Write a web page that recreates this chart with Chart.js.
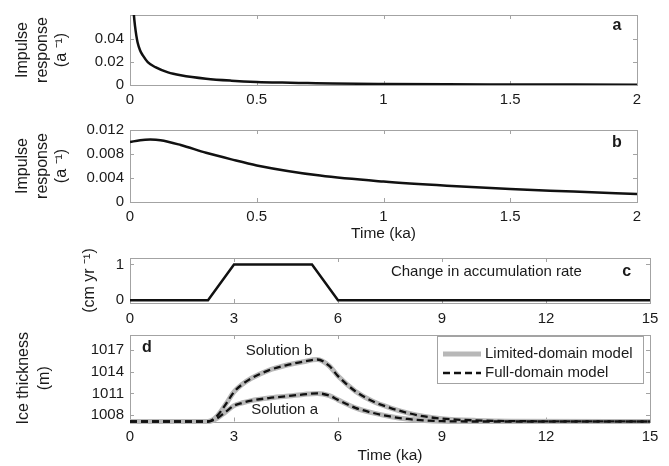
<!DOCTYPE html>
<html><head><meta charset="utf-8">
<script src="https://cdn.jsdelivr.net/npm/chart.js@4/dist/chart.umd.min.js"></script>
<style>
html,body{margin:0;padding:0;background:#fff;}
#wrap{position:relative;width:669px;height:466px;overflow:hidden;background:#fff;}
canvas{position:absolute;left:0;}
</style></head><body>
<div id="wrap">
<canvas id="ca" style="top:0px;width:669px;height:120px" width="669" height="120"></canvas>
<canvas id="cb" style="top:115px;width:669px;height:130px" width="669" height="130"></canvas>
<canvas id="cc" style="top:243px;width:669px;height:87px" width="669" height="87"></canvas>
<canvas id="cd" style="top:320px;width:669px;height:146px" width="669" height="146"></canvas>
</div>
<script>
// ---------- data ----------
// Panel a: impulse response a
const timeA = [0.006, 0.01, 0.015, 0.02, 0.025, 0.03, 0.04, 0.05, 0.07, 0.1, 0.15, 0.2, 0.3, 0.4, 0.5, 0.6, 0.7, 0.8, 1.0, 1.25, 1.5, 1.75, 2.0];
const respA = [0.11, 0.08, 0.062, 0.051, 0.043, 0.037, 0.030, 0.026, 0.020, 0.0155, 0.011, 0.0085, 0.0055, 0.0038, 0.0027, 0.0021, 0.0017, 0.0013, 0.0009, 0.0006, 0.0005, 0.0004, 0.0003];
// Panel b: impulse response b
const timeB = [0, 0.04, 0.08, 0.12, 0.2, 0.3, 0.4, 0.5, 0.75, 1.0, 1.25, 1.5, 1.75, 2.0];
const respB = [0.0100, 0.0103, 0.0104, 0.0103, 0.0095, 0.0082, 0.0071, 0.0061, 0.0044, 0.0034, 0.0027, 0.00215, 0.00175, 0.00133];
// Panel c: change in accumulation rate
const timeC = [0, 2.25, 3, 5.25, 6, 15];
const accC = [0, 0, 1, 1, 0, 0];
// Panel d: ice thickness
const timeD = [0, 2.25, 2.5, 2.75, 3, 3.25, 3.5, 4, 4.5, 5, 5.4, 5.75, 6, 6.5, 7, 7.5, 8, 8.5, 9, 10, 11, 15];
const solutionA = [1007.1, 1007.1, 1007.5, 1008.4, 1009.3, 1009.7, 1010.0, 1010.35, 1010.6, 1010.85, 1011.0, 1010.7, 1010.1, 1009.0, 1008.3, 1007.8, 1007.45, 1007.25, 1007.15, 1007.1, 1007.1, 1007.1];
const solutionB = [1007.1, 1007.1, 1007.8, 1009.4, 1011.2, 1012.3, 1013.1, 1014.2, 1014.9, 1015.4, 1015.7, 1014.8, 1013.4, 1011.3, 1009.9, 1009.0, 1008.3, 1007.8, 1007.5, 1007.25, 1007.15, 1007.1];
// tick values and labels
const ticksXab = [0, 0.5, 1, 1.5, 2];
const labelsXab = ['0', '0.5', '1', '1.5', '2'];
const ticksXcd = [0, 3, 6, 9, 12, 15];
const labelsXcd = ['0', '3', '6', '9', '12', '15'];
const ticksYa = [0, 0.02, 0.04];
const labelsYa = ['0', '0.02', '0.04'];
const ticksYb = [0, 0.004, 0.008, 0.012];
const labelsYb = ['0', '0.004', '0.008', '0.012'];
const ticksYc = [0, 1];
const labelsYc = ['0', '1'];
const ticksYd = [1008, 1011, 1014, 1017];
const labelsYd = ['1008', '1011', '1014', '1017'];

// ---------- styling ----------
const FONT = "'Liberation Sans', Arial, sans-serif";
Chart.defaults.font.family = FONT;
Chart.defaults.font.size = 15;
Chart.defaults.color = '#1a1a1a';
Chart.defaults.animation = false;
const FRAME = '#a3a3a3';

const pts = (xs, ys) => xs.map((x, i) => ({x: x, y: ys[i]}));

const framePlugin = {
  id: 'frame',
  beforeDatasetsDraw(chart) {
    const {ctx, chartArea: a, scales} = chart;
    ctx.save();
    ctx.strokeStyle = FRAME;
    ctx.lineWidth = 1;
    ctx.strokeRect(Math.round(a.left) + 0.5, Math.round(a.top) + 0.5, Math.round(a.right - a.left), Math.round(a.bottom - a.top));
    const L = 4;
    ctx.beginPath();
    scales.x.ticks.forEach(t => {
      const p = Math.round(scales.x.getPixelForValue(t.value)) + 0.5;
      ctx.moveTo(p, a.bottom); ctx.lineTo(p, a.bottom - L);
      ctx.moveTo(p, a.top); ctx.lineTo(p, a.top + L);
    });
    scales.y.ticks.forEach(t => {
      const p = Math.round(scales.y.getPixelForValue(t.value)) + 0.5;
      ctx.moveTo(a.left, p); ctx.lineTo(a.left + L, p);
      ctx.moveTo(a.right, p); ctx.lineTo(a.right - L, p);
    });
    ctx.stroke();
    ctx.restore();
  },
  afterDatasetsDraw(chart) {
    const {ctx, scales} = chart;
    const notes = (chart.options.plugins.notes || {}).items || [];
    ctx.save();
    notes.forEach(n => {
      ctx.font = (n.bold ? 'bold ' : '') + (n.size || 15) + 'px ' + FONT;
      ctx.fillStyle = '#1a1a1a';
      ctx.textAlign = 'center';
      ctx.textBaseline = 'middle';
      ctx.fillText(n.text, scales.x.getPixelForValue(n.x), scales.y.getPixelForValue(n.y));
    });
    const lg = (chart.options.plugins.boxLegend || {});
    if (lg.show) {
      const a = chart.chartArea;
      const right = a.right - 7, left = right - 206, top = a.top + 1, bottom = top + 47;
      ctx.fillStyle = '#fff';
      ctx.fillRect(left, top, right - left, bottom - top);
      ctx.strokeStyle = FRAME; ctx.lineWidth = 1;
      ctx.strokeRect(Math.round(left) + 0.5, Math.round(top) + 0.5, Math.round(right - left), Math.round(bottom - top));
      const rows = [top + 18, top + 37];
      lg.entries.forEach((di, i) => {
        const ds = chart.data.datasets[di];
        ctx.save();
        ctx.strokeStyle = ds.borderColor; ctx.lineWidth = ds.borderWidth;
        ctx.setLineDash(ds.borderDash || []);
        ctx.beginPath(); ctx.moveTo(left + 6, rows[i]); ctx.lineTo(left + 44, rows[i]); ctx.stroke();
        ctx.restore();
        ctx.font = '15px ' + FONT; ctx.fillStyle = '#1a1a1a';
        ctx.textAlign = 'left'; ctx.textBaseline = 'middle';
        ctx.fillText(ds.label, left + 48, rows[i]);
      });
    }
    ctx.restore();
  }
};

function tickFix(vals, labels) {
  return {
    afterBuildTicks: s => { s.ticks = vals.map(v => ({value: v})); },
    ticks: {callback: (v, i) => labels[i], autoSkip: false, maxRotation: 0, padding: 6}
  };
}

function makeChart(id, o) {
  const xt = tickFix(o.xTicks, o.xLabels);
  const yt = tickFix(o.yTicks, o.yLabels);
  return new Chart(document.getElementById(id), {
    type: 'line',
    data: {datasets: o.datasets},
    options: {
      responsive: false,
      animation: false,
      layout: {padding: {left: 0, right: o.padRight, top: o.padTop, bottom: 0}},
      elements: {point: {radius: 0}, line: {cubicInterpolationMode: 'monotone'}},
      plugins: {legend: {display: false}, tooltip: {enabled: false}, notes: {items: o.notes}, boxLegend: o.boxLegend || {show: false}},
      scales: {
        x: {
          type: 'linear', min: o.xMin, max: o.xMax,
          afterBuildTicks: xt.afterBuildTicks,
          afterFit: s => { s.height = o.xHeight; },
          ticks: Object.assign({}, xt.ticks, {padding: o.xPad}),
          grid: {display: false, drawTicks: false},
          border: {display: false},
          title: o.xTitle ? {display: true, text: o.xTitle, font: {size: 15.5}, padding: {top: 0, bottom: o.xTitlePad}} : {display: false}
        },
        y: {
          type: 'linear', min: o.yMin, max: o.yMax,
          afterBuildTicks: yt.afterBuildTicks,
          afterFit: s => { s.width = 130; },
          ticks: yt.ticks,
          grid: {display: false, drawTicks: false},
          border: {display: false},
          title: {display: true, text: o.yTitle, font: {size: 16, lineHeight: o.yTitleLH || 1.2}, padding: {top: o.yTitlePad, bottom: 0}}
        }
      }
    },
    plugins: [framePlugin]
  });
}

const blackLine = (data, label) => ({label: label, data: data, borderColor: '#111', borderWidth: 2.5, fill: false});

makeChart('ca', {
  datasets: [blackLine(pts(timeA, respA), 'Impulse response a')],
  xMin: 0, xMax: 2, xTicks: ticksXab, xLabels: labelsXab,
  yMin: 0, yMax: 0.061, yTicks: ticksYa, yLabels: labelsYa,
  padTop: 13, padRight: 32, xHeight: 35, xPad: 6,
  yTitle: ['Impulse', 'response', '(a \u207B\u00B9)'], yTitlePad: 13, yTitleLH: 1.22,
  notes: [{text: 'a', x: 1.921, y: 0.0515, bold: true, size: 16}]
});

makeChart('cb', {
  datasets: [blackLine(pts(timeB, respB), 'Impulse response b')],
  xMin: 0, xMax: 2, xTicks: ticksXab, xLabels: labelsXab,
  yMin: 0, yMax: 0.012, yTicks: ticksYb, yLabels: labelsYb,
  padTop: 14, padRight: 32, xHeight: 43, xPad: 6,
  xTitle: 'Time (ka)', xTitlePad: 2,
  yTitle: ['Impulse', 'response', '(a \u207B\u00B9)'], yTitlePad: 13, yTitleLH: 1.22,
  notes: [{text: 'b', x: 1.921, y: 0.0099, bold: true, size: 16}]
});

makeChart('cc', {
  datasets: [Object.assign(blackLine(pts(timeC, accC), 'Change in accumulation rate'), {cubicInterpolationMode: 'default', tension: 0, clip: false})],
  xMin: 0, xMax: 15, xTicks: ticksXcd, xLabels: labelsXcd,
  yMin: -0.08, yMax: 1.18, yTicks: ticksYc, yLabels: labelsYc,
  padTop: 14, padRight: 19, xHeight: 27, xPad: 7,
  yTitle: ['(cm yr \u207B\u00B9)'], yTitlePad: 80,
  notes: [{text: 'Change in accumulation rate', x: 10.28, y: 0.8, size: 15}, {text: 'c', x: 14.33, y: 0.8, bold: true, size: 16}]
});

const grayLine = (data, label) => ({label: label, data: data, borderColor: '#b8b8b8', borderWidth: 5, fill: false, clip: false, order: 2});
const dashLine = (data, label) => ({label: label, data: data, borderColor: '#111', borderWidth: 2.3, borderDash: [7, 4], fill: false, clip: false, order: 1});

makeChart('cd', {
  datasets: [
    grayLine(pts(timeD, solutionA), 'Limited-domain model'),
    grayLine(pts(timeD, solutionB), 'Limited-domain model'),
    dashLine(pts(timeD, solutionA), 'Full-domain model'),
    dashLine(pts(timeD, solutionB), 'Full-domain model')
  ],
  xMin: 0, xMax: 15, xTicks: ticksXcd, xLabels: labelsXcd,
  yMin: 1007.1, yMax: 1019.1, yTicks: ticksYd, yLabels: labelsYd,
  padTop: 14, padRight: 19, xHeight: 44.5, xPad: 6,
  xTitle: 'Time (ka)', xTitlePad: 1,
  yTitle: ['Ice thickness', '(m)'], yTitlePad: 13, yTitleLH: 1.3,
  notes: [
    {text: 'd', x: 0.49, y: 1017.3, bold: true, size: 16},
    {text: 'Solution b', x: 4.3, y: 1016.85, size: 15},
    {text: 'Solution a', x: 4.46, y: 1008.7, size: 15}
  ],
  boxLegend: {show: true, entries: [0, 2]}
});
</script>
</body></html>
